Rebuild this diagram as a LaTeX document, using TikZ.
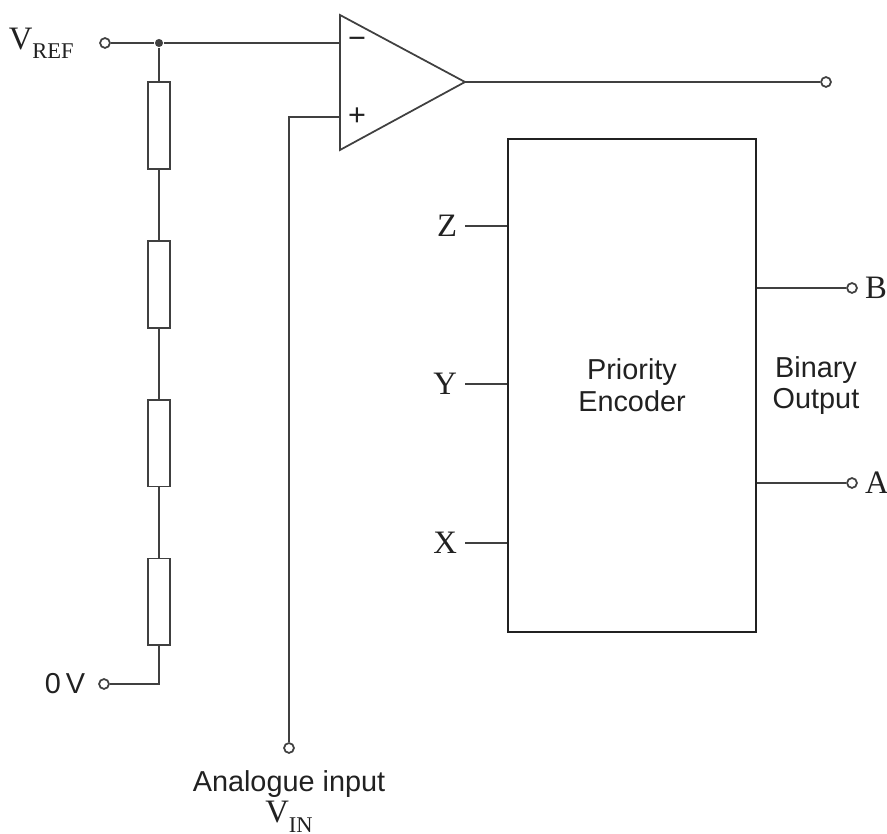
\documentclass[tikz,border=0pt]{standalone}
\usepackage{fontspec}
\setmainfont{Liberation Serif}
\setsansfont{Liberation Sans}
\usetikzlibrary{calc,positioning}

\definecolor{wire}{rgb}{0.25,0.25,0.25}
\definecolor{ink}{rgb}{0.13,0.13,0.13}
\newcommand{\lowsub}[1]{\raisebox{-2.6pt}{\fontsize{6.4}{6.4}\selectfont #1}}

\begin{document}
\begin{tikzpicture}[x=0.01cm,y=-0.01cm,line width=0.5pt,wire,
	term/.style={draw=wire,fill=white,circle,inner sep=0pt,minimum size=2.8pt},
	lbl/.style={ink,font=\fontsize{9.3}{10}\selectfont},
	txt/.style={ink,font=\sffamily\fontsize{8.2}{9}\selectfont,align=center}]

\useasboundingbox (0,0) rectangle (887,834);

\node [term] (vref) at (105,43) {};
\node [fill=wire,circle,inner sep=0pt,minimum size=2.3pt] (j) at (159,43) {};
\node [term] (zero) at (104,684) {};
\node [term] (vin) at (289,748) {};
\node [term] (out) at (826,82) {};

\foreach \i in {1,...,4} {
	\node [draw=wire,fill=white,inner sep=0pt,minimum width=6.3pt,minimum height=24.7pt]
	(r\i) at (159,{125.5+158.8*(\i-1)}) {};
}

\foreach \i in {1,...,3} {
	\pgfmathtruncatemacro{\j}{\i + 1};
	\draw (r\i.south) to (r\j.north);
}

\coordinate (oa-top) at (340,15);
\coordinate (oa-bot) at (340,150);
\coordinate (oa-out) at (465,82);
\coordinate (oa-m) at (340,43);
\coordinate (oa-p) at (340,117);

\draw (oa-top) -- (oa-out) -- (oa-bot) -- cycle;
\node [ink,font=\sffamily\fontsize{8.7}{9}\selectfont] () at (357,43) {−};
\node [ink,font=\sffamily\fontsize{8.7}{9}\selectfont] () at (357,117) {+};

\draw (vref) to (j);
\draw (j) to (oa-m);
\draw (j) to (r1.north);
\draw (r4.south) |- (zero);
\draw (oa-p) -| (vin);
\draw (oa-out) to (out);

\node [lbl,left=7pt of vref,inner sep=0pt] () {V\lowsub{REF}};
\node [txt,left=3.5pt of zero,inner sep=0pt] () {0\,V};
\node [txt,anchor=base] () at (289,792) {Analogue input};
\node [lbl,anchor=base] () at (289,823) {V\lowsub{IN}};

\node [draw=wire,txt,minimum width=70.6pt,minimum height=140.3pt,inner sep=0pt]
(enc) at (632,385.5) {Priority\\Encoder};

\node [lbl,anchor=east,inner sep=2pt] (z) at (465,226) {Z};
\node [lbl,anchor=east,inner sep=2pt] (y) at (465,384) {Y};
\node [lbl,anchor=east,inner sep=2pt] (x) at (465,543) {X};
\foreach \n in {z,y,x} {
	\draw (\n) to (\n -| enc.west);
}

\node [term] (b) at (852,288) {};
\node [term] (a) at (852,483) {};
\foreach \n/\t in {b/B,a/A} {
	\draw (\n -| enc.east) to (\n);
	\node [lbl,right=1.8pt of \n,inner sep=0pt] () {\t};
}

\node [txt] (bo) at (816,385.5) {Binary\\Output};

\end{tikzpicture}
\end{document}
